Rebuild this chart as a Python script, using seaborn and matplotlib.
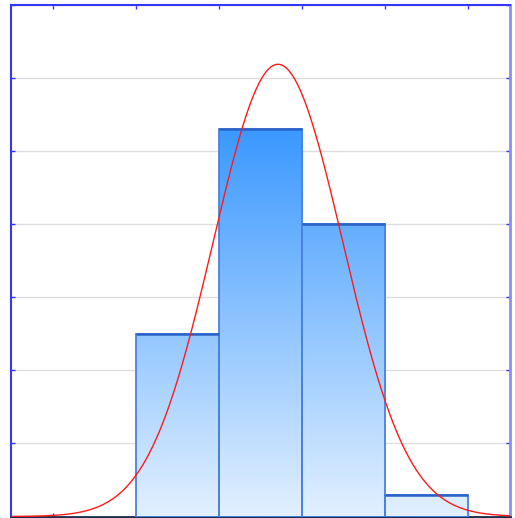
import numpy as np
import pandas as pd
import matplotlib
matplotlib.use("Agg")
import matplotlib.pyplot as plt
from matplotlib.colors import LinearSegmentedColormap
import seaborn as sns

# Histogram bins and heights
bin_edges = [1, 2, 3, 4, 5]
bin_heights = [2.5, 5.3, 4.0, 0.3]

# Fitted normal curve parameters
curve_mean = 2.71
curve_sd = 0.78

x_ticks = [0, 1, 2, 3, 4, 5]
y_ticks = [0, 1, 2, 3, 4, 5, 6, 7]

sns.set_style("white")

fig = plt.figure(figsize=(5.15, 5.18), dpi=100)
ax = fig.add_axes([11 / 515, 1.5 / 518, 499 / 515, 511.5 / 518])

centers = [(a + b) / 2 for a, b in zip(bin_edges[:-1], bin_edges[1:])]
df = pd.DataFrame({"value": centers, "weight": bin_heights})
sns.histplot(data=df, x="value", weights="weight", bins=bin_edges, ax=ax,
             stat="count", element="bars", fill=True,
             facecolor="none", edgecolor="#4a82e0", linewidth=1.3, zorder=3)

ax.set_xlim(-0.5, 5.5)
ax.set_ylim(0, 7)

# Vertical gradient fill clipped to each bar
cmap = LinearSegmentedColormap.from_list("bars", ["#e2f0ff", "#3a98ff"])
grad = np.linspace(0, 1, 256).reshape(-1, 1)
top = max(bin_heights)
for p in list(ax.patches):
    img = ax.imshow(grad, cmap=cmap, aspect="auto", origin="lower",
                    extent=(-0.5, 5.5, 0, top), zorder=2, interpolation="bilinear")
    img.set_clip_path(p)
    p.set_facecolor("none")
    # darker top edge
    x0, w, h = p.get_x(), p.get_width(), p.get_height()
    ax.plot([x0, x0 + w], [h, h], color="#2a62c8", lw=1.8, zorder=4,
            solid_capstyle="butt")

# Normal curve scaled to the histogram area
area = sum(h * (b - a) for h, a, b in zip(bin_heights, bin_edges[:-1], bin_edges[1:]))
xs = np.linspace(-0.5, 5.5, 600)
ys = area * np.exp(-0.5 * ((xs - curve_mean) / curve_sd) ** 2) / (curve_sd * np.sqrt(2 * np.pi))
sns.lineplot(x=xs, y=ys, ax=ax, color="#ff1a1a", lw=1.0, zorder=5)

ax.set_xticks(x_ticks)
ax.set_yticks(y_ticks)
ax.set_xticklabels([])
ax.set_yticklabels([])
ax.set_xlabel("")
ax.set_ylabel("")
ax.yaxis.grid(True, color="#dedede", lw=1.0, zorder=0)
ax.set_axisbelow(True)

ax.tick_params(axis="both", direction="in", length=3, width=1, color="#3333ff",
               top=True, right=True, bottom=True, left=True)
# bottom ticks share the dark baseline colour
for t in ax.xaxis.get_major_ticks():
    t.tick1line.set_color("#1f2d4d")

for side in ["left", "top"]:
    ax.spines[side].set_color("#3535ff")
    ax.spines[side].set_linewidth(1.5)
ax.spines["right"].set_color("#8c8cff")
ax.spines["right"].set_linewidth(2.0)
ax.spines["bottom"].set_color("#1f2d4d")
ax.spines["bottom"].set_linewidth(2.0)

fig.savefig("out.png", dpi=100, facecolor="white")
